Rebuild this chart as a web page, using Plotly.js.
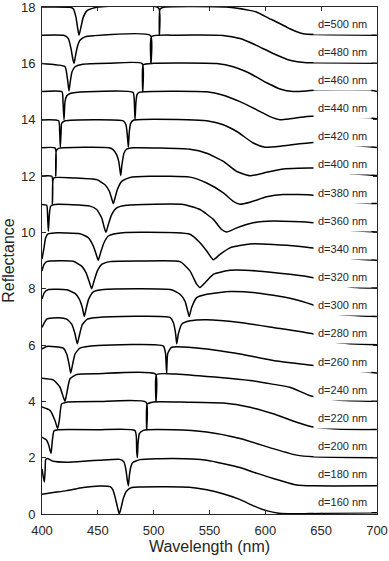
<!DOCTYPE html>
<html>
<head>
<meta charset="utf-8">
<script src="https://cdn.plot.ly/plotly-3.0.1.min.js"></script>
<style>html,body{margin:0;padding:0;background:#fff;}#chart{width:389px;height:561px;}</style>
</head>
<body>
<div id="chart"></div>
<script>
// Film thickness of each spectrum (nm) and its vertical offset in the stack
const thickness = [160, 180, 200, 220, 240, 260, 280, 300, 320, 340, 360, 380, 400, 420, 440, 460, 480, 500];
const offsets   = [0, 1, 2, 3, 4, 5, 6, 7, 8, 9, 10, 11, 12, 13, 14, 15, 16, 17];

// Wavelength (nm) / reflectance (0..1) pairs
const wl160 = [400, 410, 422, 437, 452, 461, 463.5, 465.4, 467.5, 469.2, 470.7, 472.8, 475.8, 480.3, 487.8, 511.6, 532, 547.5, 562, 577, 590, 601, 612, 625, 650, 700];
const r160  = [0.70, 0.76, 0.83, 0.94, 0.99, 0.97, 0.86, 0.61, 0.26, 0.00, 0.20, 0.55, 0.82, 0.94, 0.96, 0.97, 0.95, 0.86, 0.72, 0.52, 0.28, 0.12, 0.03, 0.01, 0.03, 0.04];

const wl180 = [400, 401, 402.1, 402.8, 403.3, 404.8, 410, 422, 440, 452, 469.8, 473.4, 475.2, 476.4, 477.3, 478.2, 479.4, 481, 487.8, 517.6, 547.5, 577.3, 592, 607.1, 628, 643, 700];
const r180  = [0.60, 0.35, 0.14, 0.55, 0.93, 0.97, 0.87, 0.84, 0.88, 0.91, 0.94, 0.85, 0.56, 0.20, 0.00, 0.35, 0.65, 0.82, 0.93, 0.97, 0.91, 0.65, 0.45, 0.26, 0.03, 0.00, 0.00];

const wl200 = [400, 404.2, 406, 407.2, 408.1, 409.3, 410.7, 414.6, 450, 483.3, 484.8, 485.4, 486, 487.2, 490.8, 517.6, 547.5, 577.3, 607.1, 628, 643, 700];
const r200  = [0.73, 0.62, 0.45, 0.26, 0.15, 0.62, 0.95, 0.99, 0.99, 0.96, 0.26, 0.00, 0.50, 0.85, 0.97, 0.99, 0.91, 0.68, 0.32, 0.09, 0.03, 0.00];

const wl220 = [400, 407.2, 411.6, 414, 415.5, 417.6, 422.1, 450, 493.2, 493.7, 494.2, 500, 530, 562.4, 586.3, 607.1, 628, 643, 664, 700];
const r220  = [0.80, 0.68, 0.32, 0.03, 0.32, 0.91, 0.97, 0.99, 0.97, 0.00, 0.90, 0.98, 0.97, 0.94, 0.79, 0.56, 0.26, 0.09, 0.02, 0.00];

const wl240 = [400, 410.1, 416.1, 419.1, 420.6, 422.1, 425.1, 431.1, 450, 501.6, 502.1, 502.6, 520, 547.5, 562, 586.3, 605, 622, 641, 664, 700];
const r240  = [0.82, 0.76, 0.50, 0.15, 0.00, 0.27, 0.80, 0.95, 0.98, 0.97, 0.00, 0.95, 0.97, 0.88, 0.84, 0.74, 0.62, 0.50, 0.19, 0.05, 0.00];

const wl260 = [400, 404.2, 419.1, 422.1, 424.2, 425.7, 427.5, 429.6, 434, 450, 508.6, 510.6, 511.6, 512.6, 516.1, 547.5, 577.3, 607.1, 643, 664, 700];
const r260  = [0.86, 0.95, 0.89, 0.68, 0.33, 0.00, 0.33, 0.68, 0.89, 0.98, 0.97, 0.70, 0.00, 0.70, 0.92, 0.86, 0.68, 0.45, 0.27, 0.15, 0.01];

const wl280 = [400, 404.2, 415, 422.1, 426.6, 429.6, 431.6, 433.4, 436.1, 440.6, 450, 514.6, 517.6, 519.7, 520.6, 522.1, 525.1, 532.5, 547.5, 577.3, 607.1, 643, 664, 700];
const r280  = [0.62, 0.92, 0.97, 0.92, 0.74, 0.39, 0.04, 0.33, 0.72, 0.92, 0.98, 0.98, 0.80, 0.39, 0.04, 0.39, 0.74, 0.86, 0.90, 0.80, 0.62, 0.39, 0.09, 0.01];

const wl300 = [400, 402.1, 405.7, 422.1, 429.6, 433.4, 436.1, 437.9, 439.4, 441.8, 446, 455, 516, 523.6, 528.1, 530.5, 531.8, 534, 538.5, 547.5, 568.4, 592.3, 622, 643, 664, 700];
const r300  = [0.63, 0.86, 0.97, 0.96, 0.83, 0.63, 0.33, 0.01, 0.27, 0.63, 0.89, 0.97, 0.96, 0.80, 0.55, 0.20, 0.01, 0.33, 0.68, 0.80, 0.90, 0.85, 0.66, 0.42, 0.10, 0.01];

const wl320 = [400, 401.8, 404.2, 428, 435.5, 439.4, 442.1, 444.5, 446.6, 449.6, 453.5, 460.9, 487.8, 523.6, 532.5, 538.5, 541.5, 546, 553.4, 568.4, 592.3, 622, 643, 676, 700];
const r320  = [0.63, 0.86, 0.96, 0.97, 0.80, 0.57, 0.27, 0.00, 0.27, 0.63, 0.86, 0.96, 0.98, 0.96, 0.63, 0.16, 0.04, 0.21, 0.51, 0.65, 0.63, 0.51, 0.39, 0.06, 0.02];

const wl340 = [400, 401.8, 403.3, 405.7, 411, 434, 441.5, 446, 449, 450.4, 452.5, 455.5, 459.4, 466.9, 487.8, 532.5, 541.5, 547.5, 553.4, 559.4, 568.4, 586.3, 607.1, 643, 676, 700];
const r340  = [0.05, 0.45, 0.81, 0.95, 0.98, 0.95, 0.81, 0.51, 0.16, 0.01, 0.28, 0.63, 0.87, 0.96, 1.00, 0.93, 0.63, 0.34, 0.03, 0.22, 0.45, 0.59, 0.57, 0.44, 0.08, 0.01];

const wl360 = [400, 404.2, 405.1, 405.7, 406.6, 407.8, 411.6, 443, 449, 453.5, 455.8, 457.3, 459.4, 462.4, 466.9, 475.8, 526.5, 541.5, 553.4, 560.9, 565.4, 574.4, 589.2, 607.1, 643, 676, 700];
const r360  = [0.99, 0.96, 0.51, 0.04, 0.63, 0.93, 0.99, 0.93, 0.81, 0.51, 0.16, 0.00, 0.28, 0.63, 0.87, 0.96, 0.99, 0.81, 0.46, 0.10, 0.01, 0.16, 0.34, 0.40, 0.34, 0.07, 0.01];

const wl380 = [400, 408.8, 409.3, 409.8, 411, 430, 449, 456.4, 460.3, 462.7, 463.9, 465.4, 467.5, 471.4, 478.8, 496.7, 532.5, 547.5, 562.4, 571.3, 577.3, 586.3, 601.2, 616.1, 643, 676, 700];
const r380  = [1.00, 0.99, 0.00, 0.85, 0.94, 0.93, 0.87, 0.69, 0.46, 0.16, 0.02, 0.22, 0.52, 0.81, 0.95, 0.99, 0.96, 0.75, 0.40, 0.10, 0.00, 0.07, 0.26, 0.34, 0.32, 0.08, 0.02];

const wl400 = [400, 411.8, 412.3, 412.8, 415, 460, 463.9, 466.9, 468.7, 469.8, 470.5, 471.6, 473.4, 475.8, 482, 532.5, 547.5, 562.4, 574.4, 586.3, 601.2, 616.1, 643, 676, 700];
const r400  = [1.00, 0.99, 0.00, 0.90, 0.98, 1.00, 0.93, 0.75, 0.52, 0.22, 0.02, 0.40, 0.81, 0.95, 1.00, 0.95, 0.81, 0.52, 0.16, 0.01, 0.13, 0.25, 0.28, 0.09, 0.02];

const wl420 = [400, 414.9, 415.8, 416.4, 417, 417.6, 420.6, 472.8, 475.2, 476.4, 477.3, 478.2, 479.4, 481.8, 530, 547.5, 562.4, 574.4, 589.2, 599.7, 616.1, 643, 676, 700];
const r420  = [0.99, 0.96, 0.60, 0.02, 0.50, 0.87, 0.96, 0.96, 0.82, 0.46, 0.02, 0.58, 0.87, 0.98, 1.00, 0.96, 0.82, 0.58, 0.17, 0.02, 0.07, 0.19, 0.10, 0.01];

const wl440 = [400, 417.9, 418.8, 419.7, 420.6, 422.1, 425.1, 440, 481.5, 482.6, 483.3, 484.1, 485, 487, 547.5, 562.4, 577.3, 592.3, 604.2, 613.1, 622.1, 637, 646, 693, 700];
const r440  = [1.00, 0.99, 0.64, 0.00, 0.64, 0.84, 0.93, 0.99, 0.97, 0.70, 0.00, 0.60, 0.88, 0.97, 0.99, 0.87, 0.64, 0.35, 0.11, 0.00, 0.03, 0.11, 0.13, 0.07, 0.03];

const wl460 = [400, 420.6, 422.1, 423.3, 424.2, 425.3, 426.9, 429.6, 435.5, 460, 489.7, 490.2, 490.7, 500, 556.4, 571.3, 586.3, 601.2, 613.1, 625, 637, 646, 693, 700];
const r460  = [0.99, 0.88, 0.64, 0.29, 0.02, 0.35, 0.70, 0.88, 0.96, 1.00, 0.99, 0.00, 0.95, 1.00, 0.99, 0.88, 0.64, 0.31, 0.09, 0.00, 0.02, 0.05, 0.05, 0.00];

const wl480 = [400, 420, 423.6, 426, 427.5, 428.7, 429.8, 431.6, 434, 438.5, 446, 497.1, 497.6, 498.1, 520, 562, 577.3, 592, 607, 622, 637, 646, 700];
const r480  = [1.00, 0.99, 0.88, 0.52, 0.17, 0.00, 0.23, 0.58, 0.82, 0.94, 0.98, 0.99, 0.00, 0.95, 1.00, 0.99, 0.88, 0.64, 0.35, 0.11, 0.02, 0.02, 0.00];

const wl500 = [400, 425, 428, 430.4, 432, 433.1, 434.6, 437, 440.6, 449, 504.3, 505.1, 505.7, 510, 565, 586, 592, 604, 607, 619, 622, 634, 646, 700];
const r500  = [1.00, 0.99, 0.94, 0.64, 0.23, 0.00, 0.23, 0.64, 0.88, 0.99, 0.97, 0.00, 0.93, 1.00, 1.00, 0.88, 0.82, 0.58, 0.53, 0.29, 0.23, 0.05, 0.02, 0.00];

const xTicks = [400, 450, 500, 550, 600, 650, 700];
const yTicks = [0, 2, 4, 6, 8, 10, 12, 14, 16, 18];

const wlSets = [wl160, wl180, wl200, wl220, wl240, wl260, wl280, wl300, wl320, wl340, wl360, wl380, wl400, wl420, wl440, wl460, wl480, wl500];
const rSets  = [r160, r180, r200, r220, r240, r260, r280, r300, r320, r340, r360, r380, r400, r420, r440, r460, r480, r500];

const FONT = 'Liberation Sans, Arial, Helvetica, sans-serif';
const INK = '#262626';

const traces = thickness.map((d, i) => ({
  type: 'scatter',
  mode: 'lines',
  name: 'd=' + d + ' nm',
  x: wlSets[i],
  y: rSets[i].map(v => v + offsets[i]),
  line: {color: '#000', width: 1.5, shape: 'spline', smoothing: 0.5},
  hoverinfo: 'skip',
  showlegend: false
}));

const annotations = thickness.map((d, i) => ({
  x: 669, y: offsets[i] + 0.41,
  xref: 'x', yref: 'y',
  text: 'd=' + d + ' nm',
  showarrow: false,
  xanchor: 'center', yanchor: 'middle',
  bgcolor: '#ffffff',
  borderpad: 4,
  font: {family: FONT, size: 11, color: INK}
}));

const layout = {
  width: 389, height: 561,
  margin: {l: 42, r: 12, t: 7, b: 47},
  paper_bgcolor: '#fff', plot_bgcolor: '#fff',
  showlegend: false,
  font: {family: FONT, color: INK},
  xaxis: {
    range: [400, 700], tickvals: xTicks, ticktext: xTicks.map(String),
    ticks: 'inside', ticklen: 4, tickwidth: 1, tickcolor: INK,
    showline: true, linecolor: INK, linewidth: 1, mirror: 'ticks',
    showgrid: false, zeroline: false,
    tickfont: {family: FONT, size: 13, color: INK},
    ticklabelstandoff: 4, ticklabeloverflow: 'allow',
    title: {text: 'Wavelength (nm)', font: {family: FONT, size: 16, color: INK}, standoff: 4}
  },
  yaxis: {
    range: [0, 18], tickvals: yTicks, ticktext: yTicks.map(String),
    ticks: 'inside', ticklen: 4, tickwidth: 1, tickcolor: INK,
    showline: true, linecolor: INK, linewidth: 1, mirror: 'ticks',
    showgrid: false, zeroline: false,
    tickfont: {family: FONT, size: 13, color: INK},
    ticklabelstandoff: 3, ticklabeloverflow: 'allow',
    title: {text: 'Reflectance', font: {family: FONT, size: 16, color: INK}, standoff: 4}
  },
  annotations: annotations
};

Plotly.newPlot('chart', traces, layout, {staticPlot: true, displayModeBar: false});
</script>
</body>
</html>
